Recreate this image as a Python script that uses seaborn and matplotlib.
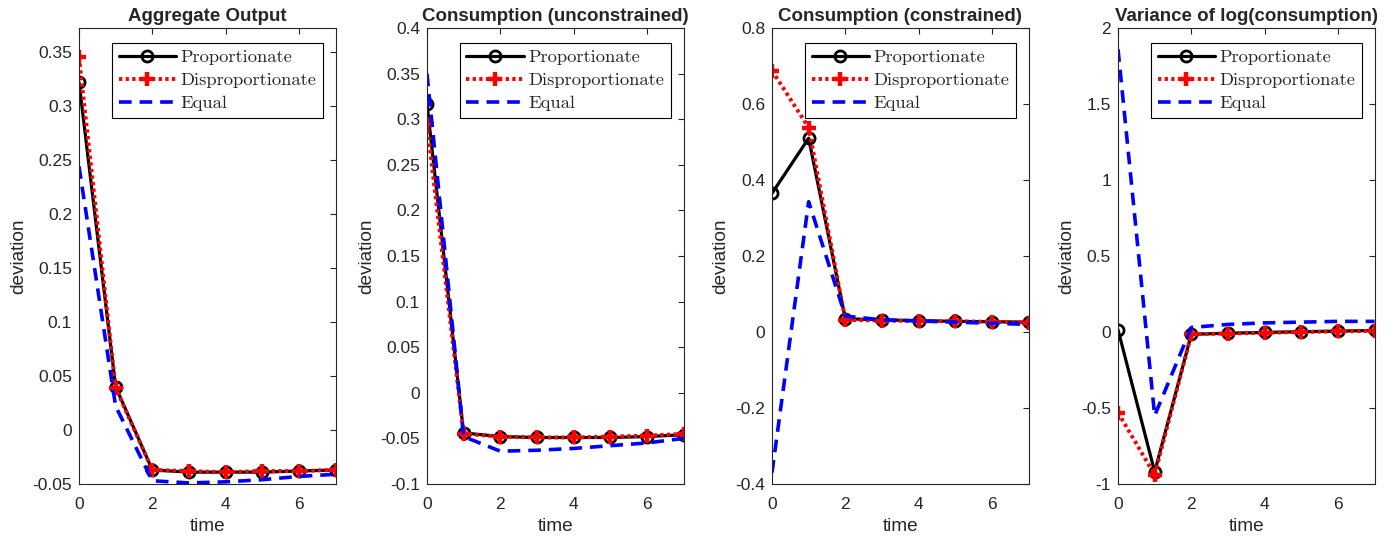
import numpy as np
import pandas as pd
import matplotlib
matplotlib.use("Agg")
import matplotlib.pyplot as plt
import seaborn as sns
from matplotlib.ticker import FuncFormatter

# impulse responses
time = [0, 1, 2, 3, 4, 5, 6, 7]

agg_prop = [0.322, 0.040, -0.037, -0.039, -0.039, -0.039, -0.038, -0.037]
agg_disp = [0.345, 0.039, -0.037, -0.038, -0.039, -0.038, -0.038, -0.037]
agg_equal = [0.244, 0.022, -0.047, -0.049, -0.048, -0.046, -0.043, -0.041]

cu_prop = [0.317, -0.044, -0.048, -0.049, -0.049, -0.049, -0.048, -0.046]
cu_disp = [0.295, -0.045, -0.048, -0.049, -0.049, -0.048, -0.047, -0.045]
cu_equal = [0.350, -0.048, -0.064, -0.063, -0.061, -0.058, -0.055, -0.050]

cc_prop = [0.365, 0.510, 0.035, 0.032, 0.030, 0.028, 0.027, 0.026]
cc_disp = [0.688, 0.538, 0.032, 0.030, 0.029, 0.028, 0.027, 0.025]
cc_equal = [-0.370, 0.343, 0.042, 0.032, 0.029, 0.026, 0.023, 0.020]

vl_prop = [0.015, -0.920, -0.015, -0.008, -0.003, 0.002, 0.006, 0.010]
vl_disp = [-0.530, -0.940, -0.015, -0.010, -0.005, 0.000, 0.004, 0.008]
vl_equal = [1.860, -0.550, 0.030, 0.050, 0.060, 0.065, 0.070, 0.070]

titles = ["Aggregate Output", "Consumption (unconstrained)",
          "Consumption (constrained)", "Variance of log(consumption)"]
series = [
    (agg_prop, agg_disp, agg_equal),
    (cu_prop, cu_disp, cu_equal),
    (cc_prop, cc_disp, cc_equal),
    (vl_prop, vl_disp, vl_equal),
]
ylims = [(-0.05, 0.372), (-0.1, 0.4), (-0.4, 0.8), (-1, 2)]
ysteps = [0.05, 0.05, 0.2, 0.5]

sns.set_style("white")
plt.rcParams["font.family"] = ["Liberation Sans", "DejaVu Sans"]
plt.rcParams["axes.unicode_minus"] = False

fig = plt.figure(figsize=(13.93, 5.4), dpi=100)

lefts = [0.0567, 0.3065, 0.5542, 0.8026]
width = 0.1842
bottom = 0.1037
height = 0.8444

grey = "#262626"

for i in range(4):
    ax = fig.add_axes([lefts[i], bottom, width, height])
    prop, disp, equal = series[i]

    sns.lineplot(x=time, y=prop, ax=ax, color="black", linewidth=2.3,
                 marker="o", markersize=8, markerfacecolor="none",
                 markeredgecolor="black", markeredgewidth=2,
                 label="Proportionate")
    sns.lineplot(x=time, y=disp, ax=ax, color="red", linewidth=2.8,
                 linestyle=":", marker="+", markersize=10,
                 markeredgewidth=3.2, markeredgecolor="red",
                 label="Disproportionate")
    sns.lineplot(x=time, y=equal, ax=ax, color="blue", linewidth=2.6,
                 linestyle="--", label="Equal")
    ax.lines[2].set_dashes((3.5, 2.2))
    ax.lines[1].set_dashes((0.85, 0.85))

    ax.set_xlim(0, 7)
    ax.set_ylim(*ylims[i])
    ax.set_xticks([0, 2, 4, 6])
    lo, hi = ylims[i]
    ax.set_yticks(np.arange(lo, hi + 1e-9, ysteps[i]))
    ax.yaxis.set_major_formatter(FuncFormatter(lambda v, p: "%g" % round(v, 4)))

    ax.tick_params(direction="in", length=4, width=0.8, colors=grey,
                   labelsize=12.5, top=True, right=True, pad=5)
    ax.tick_params(axis="x", pad=9)
    for sp in ax.spines.values():
        sp.set_color(grey)
        sp.set_linewidth(0.8)

    ax.set_title(titles[i], fontsize=13.5, fontweight="bold", pad=5)
    ax.set_xlabel("time", fontsize=13.7, color=grey, labelpad=5)
    ax.set_ylabel("deviation", fontsize=13.7, color=grey, labelpad=4)

    leg = ax.legend(loc="upper right", bbox_to_anchor=(0.95, 0.967),
                    prop={"family": "cmr10", "size": 13.3},
                    frameon=True, fancybox=False, framealpha=1,
                    edgecolor="black", handlelength=3.1,
                    handletextpad=0.25, labelspacing=0.38,
                    borderpad=0.35, borderaxespad=0)
    leg.get_frame().set_linewidth(0.8)

plt.savefig("out.png", dpi=100)
